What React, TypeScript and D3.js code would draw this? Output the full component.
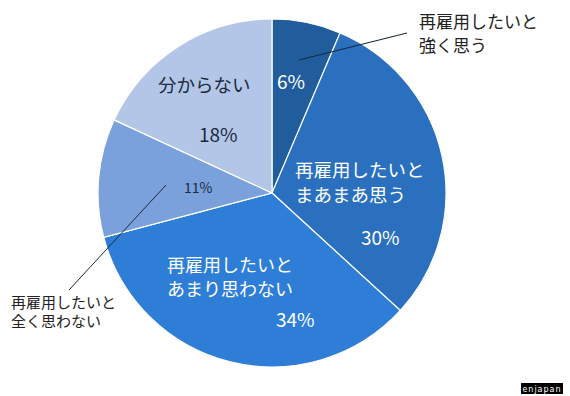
import React from "react";
import * as d3 from "d3";

const categories = [
  "再雇用したいと強く思う",
  "再雇用したいとまあまあ思う",
  "再雇用したいとあまり思わない",
  "再雇用したいと全く思わない",
  "分からない",
];
const values = [6.4, 30.4, 34.1, 11.0, 18.1];
const percentLabels = ["6%", "30%", "34%", "11%", "18%"];
const colors = ["#215d9c", "#2a70bf", "#2e7ed8", "#7ba1dc", "#b4c6e7"];

const W = 570;
const H = 396;
const CX = 272;
const CY = 193;
const R = 174;
const FONT = "'Noto Sans CJK JP', 'Noto Sans', sans-serif";

function TwoLine(props: {
  x: number;
  y: number;
  dy: number;
  lines: string[];
  fill: string;
  size: number;
}) {
  return (
    <text x={props.x} y={props.y} fill={props.fill} fontSize={props.size}>
      {props.lines.map((l, i) => (
        <tspan key={i} x={props.x} dy={i === 0 ? 0 : props.dy}>
          {l}
        </tspan>
      ))}
    </text>
  );
}

export default function App() {
  const pie = d3
    .pie<number>()
    .sort(null)
    .startAngle(0)
    .endAngle(2 * Math.PI)
    .value((d) => d);
  const arcs = pie(values);
  const arc = d3.arc<d3.PieArcDatum<number>>().innerRadius(0).outerRadius(R);

  return (
    <svg
      width={W}
      height={H}
      style={{ position: "absolute", left: 0, top: 0, background: "#fff" }}
      fontFamily={FONT}
    >
      <rect width={W} height={H} fill="#fff" />
      <g transform={`translate(${CX},${CY})`}>
        {arcs.map((a, i) => (
          <path
            key={categories[i]}
            d={arc(a) || ""}
            fill={colors[i]}
            stroke="#ffffff"
            strokeWidth={1.2}
          />
        ))}
      </g>

      {/* leader lines */}
      <line x1={299} y1={60} x2={407} y2={33} stroke="#1a2a3a" strokeWidth={1.2} />
      <line x1={166} y1={185} x2={69} y2={290} stroke="#1a2a3a" strokeWidth={1} />

      <TwoLine x={419} y={28} dy={24} lines={["再雇用したいと", "強く思う"]} fill="#222" size={17} />

      <text x={277} y={89} fill="#fff" fontSize={19}>
        {percentLabels[0]}
      </text>

      <TwoLine x={295} y={177} dy={25} lines={["再雇用したいと", "まあまあ思う"]} fill="#fff" size={18.5} />
      <text x={361} y={245} fill="#fff" fontSize={19}>
        {percentLabels[1]}
      </text>

      <TwoLine x={167} y={272} dy={24} lines={["再雇用したいと", "あまり思わない"]} fill="#fff" size={18} />
      <text x={276} y={327} fill="#fff" fontSize={19}>
        {percentLabels[2]}
      </text>

      <text x={184} y={193} fill="#1a2a40" fontSize={14}>
        {percentLabels[3]}
      </text>

      <text x={158} y={92} fill="#1a2a40" fontSize={18.5}>
        分からない
      </text>
      <text x={199} y={142} fill="#1a2a40" fontSize={19}>
        {percentLabels[4]}
      </text>

      <TwoLine x={11} y={308} dy={19} lines={["再雇用したいと", "全く思わない"]} fill="#222" size={15} />

      {/* watermark */}
      <rect x={521} y={383} width={42} height={11} fill="#000" />
      <text
        x={542}
        y={392}
        fill="#fff"
        fontSize={8}
        textAnchor="middle"
        letterSpacing={1}
        fontFamily="'DejaVu Sans', sans-serif"
      >
        enjapan
      </text>
    </svg>
  );
}
